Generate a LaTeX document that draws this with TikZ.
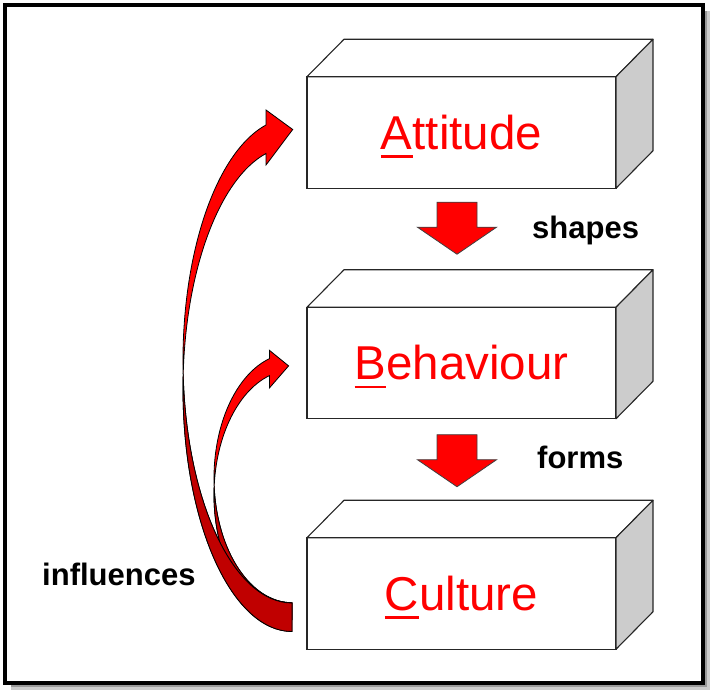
\documentclass[tikz,border=0pt]{standalone}
\usepackage{fontspec}
\setmainfont{Liberation Sans}
\usetikzlibrary{positioning}
\newsavebox\ulbox
\newcommand\ulfirst[1]{\sbox\ulbox{#1}\rlap{\rule[-8.5pt]{\wd\ulbox}{2.5pt}}\usebox\ulbox}
\definecolor{arrred}{RGB}{255,0,0}
\definecolor{arrdark}{RGB}{192,0,0}
\definecolor{sidegray}{RGB}{204,204,204}
\tikzset{
  block/.style={draw=black!85, line width=1.1pt, fill=white, outer sep=0pt,
    minimum width=309pt, minimum height=111.5pt, inner sep=0pt,
    text height=34pt, text depth=0pt, text=red, font=\fontsize{47.5}{50}\selectfont},
  face/.style={draw=black!85, line width=1.1pt, line join=round},
  word/.style={font=\bfseries\fontsize{31}{33}\selectfont, anchor=base west, inner sep=0pt},
  downarrow/.style={fill=red, draw=black!75, line width=0.8pt},
  curvearr/.style={fill=arrred, draw=black, line width=0.8pt},
  curvedark/.style={fill=arrdark, draw=black, line width=0.8pt},
  pics/blockarr/.style={code={
    \draw[downarrow] (-20,0) -- (20,0) -- (20,-25) -- (39.5,-25) -- (0,-52)
      -- (-39.5,-25) -- (-20,-25) -- cycle;
  }}
}
\begin{document}
\begin{tikzpicture}[x=1pt, y=1pt]
  \useasboundingbox (0,0) rectangle (714,695);
  % frame with shadow
  \draw[black!20, line width=5pt] (707.5,684) -- (707.5,7.5) -- (11,7.5);
  \draw[black!40, line width=2.5pt] (706,684) -- (706,9) -- (11,9);
  \draw[line width=4.5pt] (5,690) rectangle (703,12);

  % the three blocks
  \node[block] (att) at (461.5,562.5) {\ulfirst{A}ttitude};
  \node[block, below=119pt of att] (beh) {\ulfirst{B}ehaviour};
  \node[block, below=119pt of beh] (cul) {\ulfirst{C}ulture};
  \foreach \b in {att,beh,cul} {
    \draw[face, fill=white] (\b.north west) -- ++(37,37.5) -- ++(309,0) -- (\b.north east) -- cycle;
    \draw[face, fill=sidegray] (\b.north east) -- ++(37,37.5) -- ++(0,-111.5) -- (\b.south east) -- cycle;
  }

  % down arrows and their words
  \coordinate[below left=14pt and 4.5pt of att.south] (sh);
  \coordinate[below left=16pt and 4.5pt of beh.south] (fo);
  \pic at (sh) {blockarr};
  \pic at (fo) {blockarr};
  \node[word] (shp) at (532,456) {shapes};
  \node[word] (frm) at (537,226) {forms};
  \node[word] (inf) at (42,109) {influences};

  % curved arrows from culture
  \coordinate (smalltail) at (292,75.3);
  \coordinate (smallcross) at (214.18,208.5);
  \coordinate (bigtail) at (292,63.5);
  \coordinate (bigcross) at (183.19,320.26);
  \filldraw[curvearr] (smalltail) arc[start angle=270, end angle=106.8, x radius=78, y radius=124.7]
    -- (269.4,307) -- (288.6,329.1) -- (269.4,344.7) -- (269.46,336.38)
    arc[start angle=106.8, end angle=270, x radius=78, y radius=124.7] -- cycle;
  \filldraw[curvedark] (smallcross) arc[start angle=176.09, end angle=270, x radius=78, y radius=124.7]
    -- (292,92.3) arc[start angle=270, end angle=183.91, x radius=78, y radius=124.7] -- cycle;
  \filldraw[curvearr] (bigtail) arc[start angle=270, end angle=103.8, x radius=109, y radius=242.5]
    -- (266,530) -- (292.7,565.5) -- (266,585) -- (266,570)
    arc[start angle=103.8, end angle=270, x radius=109, y radius=242.5] -- cycle;
  \filldraw[curvedark] (bigcross) arc[start angle=176.63, end angle=270, x radius=109, y radius=242.5]
    -- (292,92) arc[start angle=270, end angle=183.37, x radius=109, y radius=242.5] -- cycle;
\end{tikzpicture}
\end{document}
